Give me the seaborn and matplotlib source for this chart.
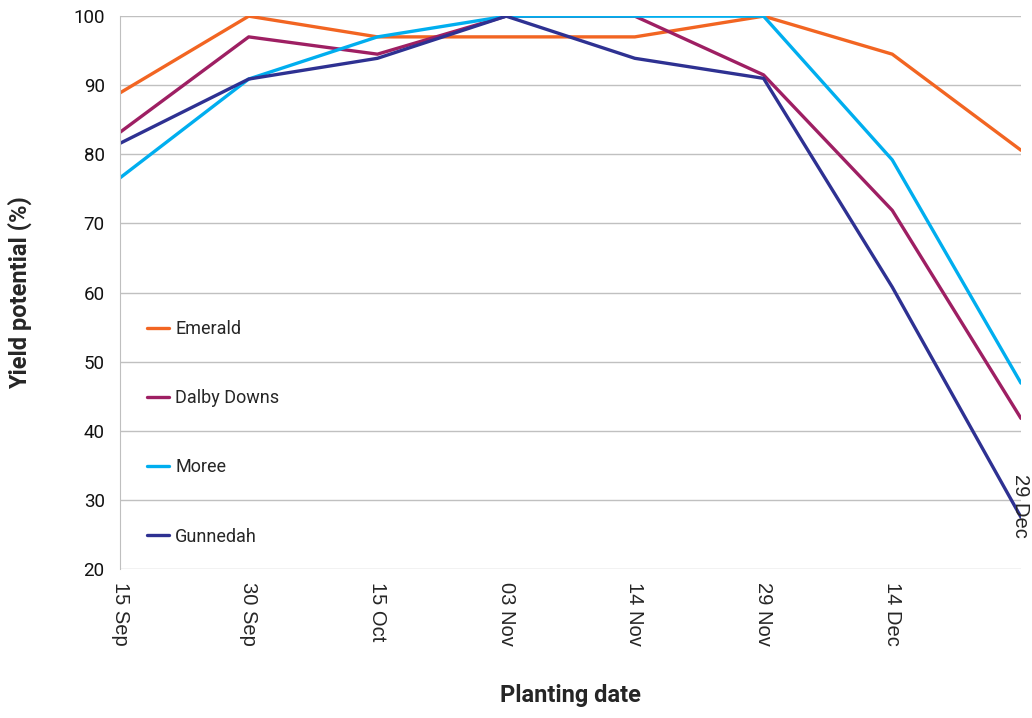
import numpy as np
import pandas as pd
import matplotlib
matplotlib.use("Agg")
import matplotlib.pyplot as plt
import seaborn as sns

dates = ["15 Sep", "30 Sep", "15 Oct", "03 Nov", "14 Nov", "29 Nov", "14 Dec", "29 Dec"]
emerald = [88.9, 100, 97, 97, 97, 100, 94.5, 80.6]
dalby = [83.2, 97, 94.5, 100, 100, 91.5, 71.9, 41.8]
moree = [76.6, 90.9, 97, 100, 100, 100, 79.2, 46.9]
gunnedah = [81.6, 90.9, 93.9, 100, 93.9, 91, 60.8, 27.5]
sites = ["Emerald", "Dalby Downs", "Moree", "Gunnedah"]
colors = ["#F26522", "#9E1F63", "#00AEEF", "#2E3192"]

df = pd.DataFrame({"date": dates * 4,
                   "site": np.repeat(sites, len(dates)),
                   "yield": emerald + dalby + moree + gunnedah})

sns.set_style("white")
plt.rcParams["font.family"] = ["Roboto", "DejaVu Sans"]

fig = plt.figure(figsize=(10.32, 7.18), dpi=100)
ax = fig.add_axes([0.1163, 0.2075, 0.873, 0.770])

sns.lineplot(data=df, x="date", y="yield", hue="site", palette=colors,
             linewidth=2.4, sort=False, ax=ax)

ax.set_xlim(0, 7)
ax.set_ylim(20, 100)
ax.set_yticks(range(20, 101, 10))
ax.yaxis.grid(True, color="#C0C0C0", linewidth=1)
ax.set_axisbelow(True)
for s in ["top", "right", "bottom"]:
    ax.spines[s].set_visible(False)
ax.spines["left"].set_color("#BFBFBF")

ax.set_xticks(range(len(dates)))
ax.set_xticklabels(dates[:-1] + [""], rotation=270, fontsize=14.5,
                   family="Liberation Sans", va="top", ha="center")
ax.tick_params(axis="x", length=5, color="#BFBFBF", pad=4)
ax.tick_params(axis="y", length=5, color="#BFBFBF", labelsize=13.5, pad=6,
               labelcolor="#111111")
ax.text(7, 33.7, dates[-1], rotation=270, ha="center", va="top",
        fontsize=14.5, family="Liberation Sans", clip_on=False)

ax.set_xlabel("Planting date", fontsize=17, fontweight="bold", labelpad=28)
ax.set_ylabel("Yield potential (%)", fontsize=17, fontweight="bold", labelpad=30)

h, l = ax.get_legend_handles_labels()
ax.legend(h, l, loc="upper left", bbox_to_anchor=(0.03, 0.45), frameon=False,
          fontsize=13, labelspacing=2.83, handlelength=1.2, handletextpad=0.35,
          borderpad=0, borderaxespad=0)

fig.savefig("out.png", dpi=100)
